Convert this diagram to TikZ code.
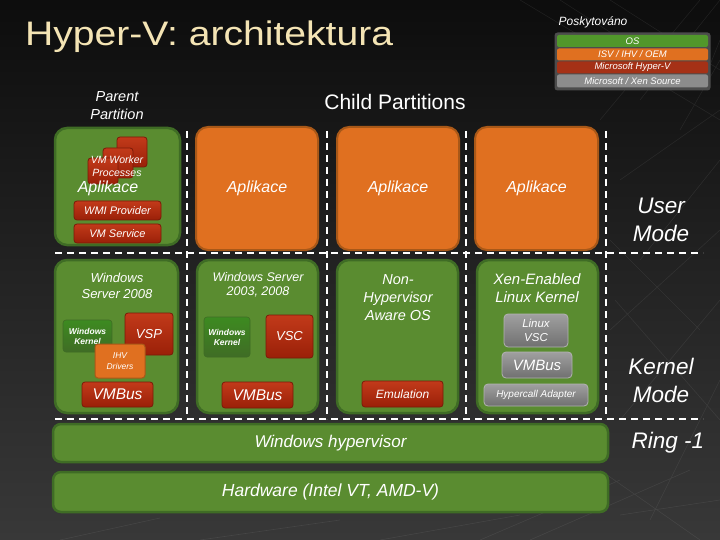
\documentclass[tikz,border=0pt]{standalone}
\usepackage{fontspec}
\setmainfont{Liberation Sans}
\newfontfamily\titlefont[FakeStretch=1.15]{Liberation Sans}
\definecolor{grn}{HTML}{5A8C30}
\definecolor{grnd}{HTML}{3F6C25}
\definecolor{org}{HTML}{E07020}
\definecolor{orgd}{HTML}{A85818}
\definecolor{redt}{HTML}{C23A1A}
\definecolor{redb}{HTML}{9A2008}
\definecolor{redd}{HTML}{7A1A08}
\definecolor{gryt}{HTML}{A0A0A0}
\definecolor{gryb}{HTML}{707070}
\definecolor{titlec}{HTML}{F4E4B4}
\tikzset{
  greenbox/.style={fill=grn, draw=grnd, line width=2.5pt, rounded corners=12pt, inner sep=0pt},
  orangebox/.style={fill=org, draw=orgd, line width=2pt, rounded corners=12pt, inner sep=0pt},
  redbox/.style={top color=redt, bottom color=redb, draw=redd, line width=0.8pt, rounded corners=3pt, inner sep=0pt, text=white, font=\itshape, align=center},
  graybox/.style={top color=gryt, bottom color=gryb, draw=gryt!80!white, line width=0.8pt, rounded corners=4pt, inner sep=0pt, text=white, font=\itshape, align=center},
  kernbox/.style={top color=grn!80!green!85!black, bottom color=grnd, draw=grnd, line width=0.6pt, rounded corners=3pt, inner sep=0pt, text=white, font=\bfseries\itshape\fontsize{8.5}{10}\selectfont, align=center},
  ihvbox/.style={fill=org, draw=orgd, line width=1pt, rounded corners=3pt, inner sep=0pt, text=white, font=\itshape\fontsize{8.5}{10.5}\selectfont, align=center},
  legbox/.style={inner sep=0pt, minimum width=151pt, minimum height=12pt, rounded corners=2pt, text=white, font=\itshape\fontsize{9.5}{10}\selectfont},
  lbl/.style={text=white, font=\itshape, align=center, inner sep=0pt},
  dashln/.style={draw=white, line width=2.5pt, dash pattern=on 7pt off 5pt},
  mesh/.style={draw=white, opacity=0.07, line width=0.6pt},
}
\begin{document}
\begin{tikzpicture}[x=1pt, y=-1pt]
\useasboundingbox (0,0) rectangle (720,540);
\shade[top color=black!95, bottom color=black!78] (0,0) rectangle (720,540);

% faint background mesh
\draw[mesh] (520,0) -- (720,120) (560,0) -- (700,90) -- (720,40) (610,0) -- (720,70)
  (640,100) -- (720,0) (600,120) -- (700,0) (680,130) -- (720,60)
  (620,180) -- (720,110) (640,260) -- (720,160) (610,330) -- (720,230)
  (620,420) -- (720,300) (650,520) -- (720,380) (610,240) -- (700,330)
  (615,300) -- (720,420) (600,470) -- (700,540) (480,540) -- (620,480)
  (530,540) -- (690,470) (380,540) -- (520,515) (620,515) -- (720,500)
  (200,540) -- (340,520) (60,540) -- (160,518);

% title
\node[anchor=base west, inner sep=0pt, text=titlec, font=\titlefont\fontsize{34}{36}\selectfont] (title) at (25,46) {Hyper-V: architektura};

% legend
\node[lbl, font=\itshape\fontsize{12}{14}\selectfont] (posk) at (593,22) {Poskytováno};
\node[fill=black!70, rounded corners=3pt, minimum width=156pt, minimum height=58pt, inner sep=0pt] (legbg) at (632.5,61.5) {};
\node[legbox, fill=grn!90!green] (lgos) at (632.5,41) {OS};
\node[legbox, fill=org] (lgisv) at (632.5,54.5) {ISV / IHV / OEM};
\node[legbox, fill=redt!85!black] (lghv) at (632.5,67.5) {Microsoft Hyper-V};
\node[legbox, fill=black!45, minimum height=13pt] (lgxen) at (632.5,81) {Microsoft / Xen Source};

% headings
\node[lbl, font=\itshape\fontsize{14.5}{18}\selectfont] (parent) at (117,106) {Parent\\Partition};
\node[lbl, font=\fontsize{21}{24}\selectfont] (child) at (395,102) {Child Partitions};
\node[lbl, font=\itshape\fontsize{22.5}{28}\selectfont] (user) at (661,220) {User\\Mode};
\node[lbl, font=\itshape\fontsize{22.5}{28}\selectfont] (kern) at (661,380) {Kernel\\Mode};
\node[lbl, font=\itshape\fontsize{22.5}{26}\selectfont] (ring) at (668,443) {Ring -1};

% dashed separators
\coordinate (v1t) at (187,131); \coordinate (v1b) at (187,419);
\coordinate (v2t) at (327,131); \coordinate (v2b) at (327,419);
\coordinate (v3t) at (466,131); \coordinate (v3b) at (466,419);
\coordinate (v4t) at (606,131); \coordinate (v4b) at (606,419);
\coordinate (h1l) at (55,253);  \coordinate (h1r) at (703,253);
\coordinate (h2l) at (55,419);  \coordinate (h2r) at (703,419);
\draw[dashln] (v1t) -- (v1b);
\draw[dashln] (v2t) -- (v2b);
\draw[dashln] (v3t) -- (v3b);
\draw[dashln] (v4t) -- (v4b);
\draw[dashln] (h1l) -- (h1r);
\draw[dashln] (h2l) -- (h2r);

% parent user mode
\node[greenbox, minimum width=125pt, minimum height=117pt] (pu) at (117.5,186.5) {};
\node[redbox, minimum width=30pt, minimum height=30pt] (wp1) at (132,152) {};
\node[redbox, minimum width=30pt, minimum height=30pt] (wp2) at (118,163) {};
\node[redbox, minimum width=30pt, minimum height=26pt] (wp3) at (103,171) {};
\node[lbl, font=\itshape\fontsize{10.5}{13}\selectfont] (wptxt) at (117,166) {VM Worker\\Processes};
\node[lbl, font=\itshape\fontsize{16}{18}\selectfont] (papl) at (108,188) {Aplikace};
\node[redbox, minimum width=87pt, minimum height=19pt, font=\itshape\fontsize{11}{12}\selectfont] (wmi) at (117.5,210.5) {WMI Provider};
\node[redbox, minimum width=87pt, minimum height=19pt, font=\itshape\fontsize{11}{12}\selectfont] (vms) at (117.5,233.5) {VM Service};

% child user mode
\node[orangebox, minimum width=122pt, minimum height=123pt] (c1) at (257,188.5) {};
\node[orangebox, minimum width=122pt, minimum height=123pt] (c2) at (398,188.5) {};
\node[orangebox, minimum width=123pt, minimum height=123pt] (c3) at (536.5,188.5) {};
\node[lbl, font=\itshape\fontsize{16}{18}\selectfont] (a1) at (c1) {Aplikace};
\node[lbl, font=\itshape\fontsize{16}{18}\selectfont] (a2) at (c2) {Aplikace};
\node[lbl, font=\itshape\fontsize{16}{18}\selectfont] (a3) at (c3) {Aplikace};

% kernel: parent
\node[greenbox, minimum width=123pt, minimum height=153pt] (pk) at (116.5,336.5) {};
\node[lbl, font=\itshape\fontsize{13}{15.5}\selectfont] (pkt) at (117,286) {Windows\\Server 2008};
\node[kernbox, minimum width=49pt, minimum height=32pt] (wk0) at (87.5,336) {Windows\\Kernel};
\node[redbox, minimum width=48pt, minimum height=42pt, font=\itshape\fontsize{13}{15}\selectfont] (vsp) at (149,334) {VSP};
\node[ihvbox, minimum width=50pt, minimum height=34pt] (ihv) at (120,361) {IHV\\Drivers};
\node[redbox, minimum width=71pt, minimum height=25pt, font=\itshape\fontsize{15.5}{17}\selectfont] (vmb0) at (117.5,394.5) {VMBus};

% kernel: child 1
\node[greenbox, minimum width=121pt, minimum height=153pt] (k1) at (257.5,336.5) {};
\node[lbl, font=\itshape\fontsize{12.5}{14}\selectfont] (k1t) at (258,285) {Windows Server\\2003, 2008};
\node[kernbox, minimum width=46pt, minimum height=40pt] (wk1) at (227,337) {Windows\\Kernel};
\node[redbox, minimum width=47pt, minimum height=43pt, font=\itshape\fontsize{13}{15}\selectfont] (vsc) at (289.5,336.5) {VSC};
\node[redbox, minimum width=71pt, minimum height=26pt, font=\itshape\fontsize{15.5}{17}\selectfont] (vmb1) at (257.5,395) {VMBus};

% kernel: child 2
\node[greenbox, minimum width=121pt, minimum height=153pt] (k2) at (397.5,336.5) {};
\node[lbl, font=\itshape\fontsize{14.5}{18}\selectfont] (k2t) at (398,298) {Non-\\Hypervisor\\Aware OS};
\node[redbox, minimum width=81pt, minimum height=26pt, font=\itshape\fontsize{12}{14}\selectfont] (emu) at (402.5,394) {Emulation};

% kernel: child 3
\node[greenbox, minimum width=121pt, minimum height=153pt] (k3) at (537.5,336.5) {};
\node[lbl, font=\itshape\fontsize{15}{18}\selectfont] (k3t) at (537,288) {Xen-Enabled\\Linux Kernel};
\node[graybox, minimum width=64pt, minimum height=33pt, font=\itshape\fontsize{11.5}{13.5}\selectfont] (lvsc) at (536,330.5) {Linux\\VSC};
\node[graybox, minimum width=70pt, minimum height=26pt, font=\itshape\fontsize{15}{17}\selectfont] (vmb3) at (537,365) {VMBus};
\node[graybox, minimum width=104pt, minimum height=22pt, font=\itshape\fontsize{10}{12}\selectfont] (hca) at (536,395) {Hypercall Adapter};

% hypervisor & hardware
\node[greenbox, rounded corners=8pt, minimum width=555pt, minimum height=38pt, text=white, font=\itshape\fontsize{17}{19}\selectfont] (hv) at (330.5,443) {Windows hypervisor};
\node[greenbox, rounded corners=8pt, minimum width=555pt, minimum height=40pt, text=white, font=\itshape\fontsize{17.5}{19}\selectfont] (hw) at (330.5,492) {Hardware (Intel VT, AMD-V)};
\end{tikzpicture}
\end{document}
